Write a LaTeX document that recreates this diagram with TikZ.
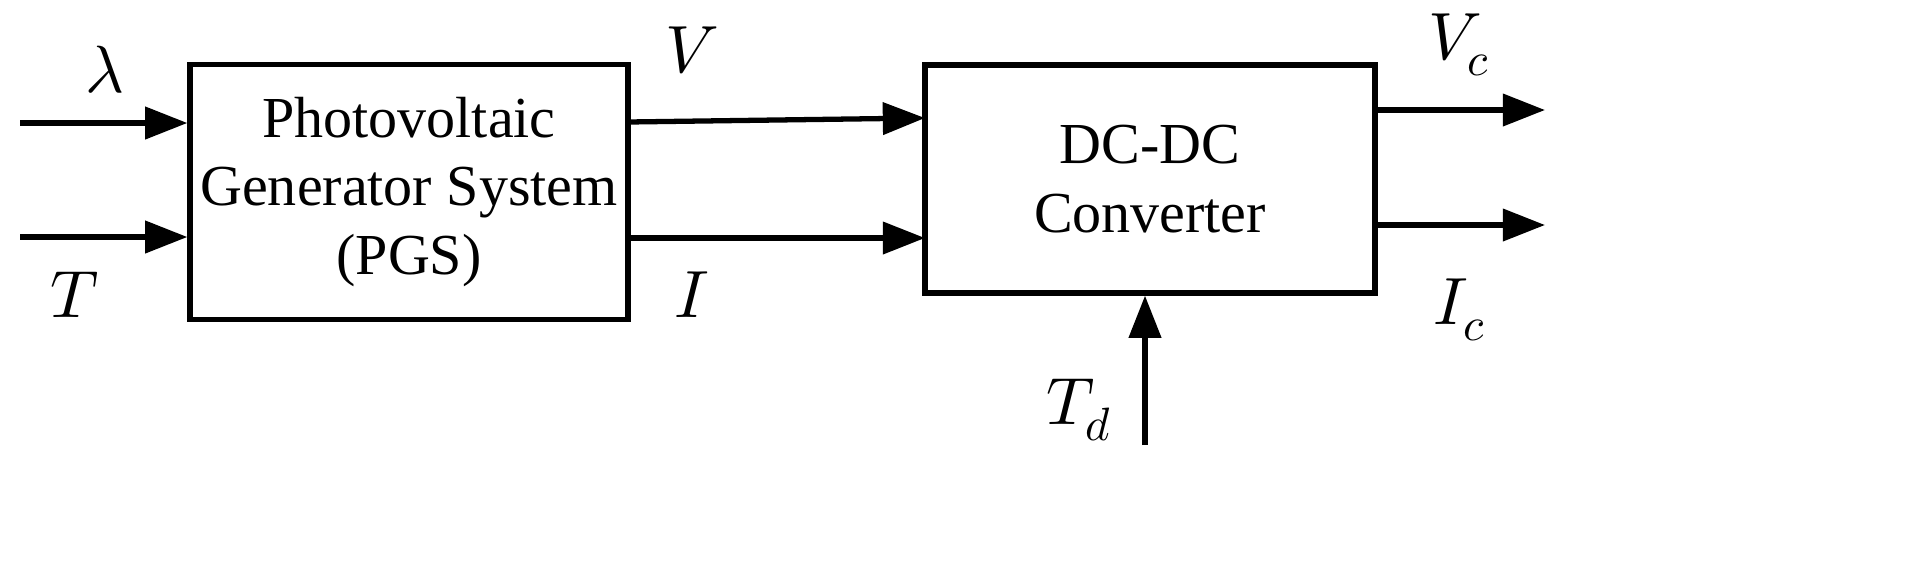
\documentclass[tikz,border=0pt]{standalone}
\usepackage{fontspec}
\setmainfont{Liberation Serif}
\usepackage{unicode-math}
\setmathfont{Latin Modern Math}
\usetikzlibrary{arrows.meta}
\begin{document}
\begin{tikzpicture}[x=0.01cm,y=-0.01cm,
  blk/.style={draw,line width=1.5pt,inner sep=0pt,align=center,font=\fontsize{16.5}{19.5}\selectfont},
  sig/.style={line width=1.5pt,-{Triangle[length=12pt,width=9pt]}},
  lbl/.style={font=\fontsize{19}{22}\selectfont}]
\useasboundingbox (0,0) rectangle (1924,581);
\node[blk,minimum width=438*0.01cm,minimum height=255*0.01cm] (pgs) at (409,192) {Photovoltaic\\Generator System\\(PGS)};
\node[blk,minimum width=450*0.01cm,minimum height=228*0.01cm] (dc) at (1150,179) {DC-DC\\Converter};
\coordinate (l0) at (20,123); \coordinate (t0) at (20,237);
\draw[sig] (l0) -- (l0 -| pgs.west);
\draw[sig] (t0) -- (t0 -| pgs.west);
\coordinate (v0) at (628,122); \coordinate (v1) at (925,118);
\coordinate (i0) at (628,238); \coordinate (i1) at (925,238);
\draw[sig] (v0) -- (v1);
\draw[sig] (i0) -- (i1);
\coordinate (vc0) at (1375,110); \coordinate (vc1) at (1545,110);
\coordinate (ic0) at (1375,225); \coordinate (ic1) at (1545,225);
\draw[sig] (vc0) -- (vc1);
\draw[sig] (ic0) -- (ic1);
\coordinate (td0) at (1145,445);
\draw[sig] (td0) -- (td0 |- dc.south);
\node[lbl] (ll) at (105,70) {$\lambda$};
\node[lbl] (lt) at (75,295) {$T$};
\node[lbl] (lv) at (692,50) {$V$};
\node[lbl] (li) at (692,295) {$I$};
\node[lbl] (lvc) at (1460,45) {$V_c$};
\node[lbl] (lic) at (1460,310) {$I_c$};
\node[lbl] (ltd) at (1080,410) {$T_d$};
\end{tikzpicture}
\end{document}
